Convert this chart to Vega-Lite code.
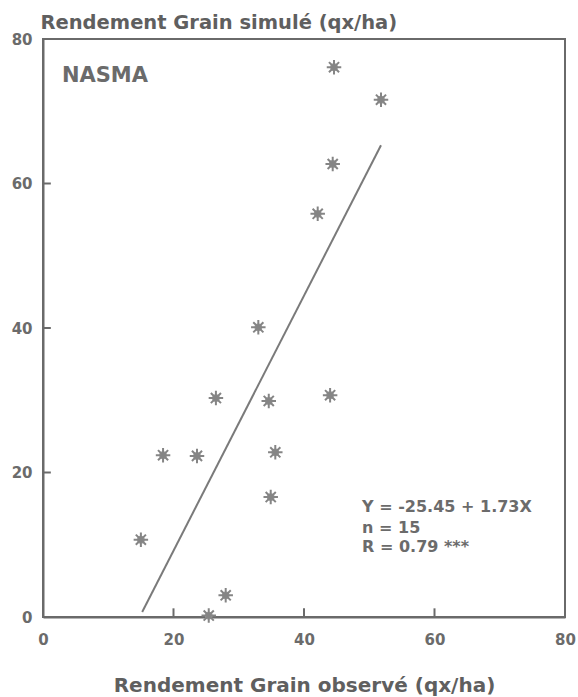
{
  "$schema": "https://vega.github.io/schema/vega-lite/v6.json",
  "width": 522,
  "height": 578,
  "autosize": {"type": "none"},
  "padding": {"left": 43, "top": 39, "right": 13, "bottom": 80},
  "background": "white",
  "config": {
    "view": {"stroke": "#6a6a6a", "strokeWidth": 2},
    "font": "DejaVu Sans",
    "axis": {
      "grid": false,
      "ticks": false,
      "labelFlush": false,
      "domainColor": "#6a6a6a",
      "domainWidth": 2,
      "labelFont": "DejaVu Sans",
      "labelFontWeight": "bold",
      "labelFontSize": 15,
      "labelColor": "#6b6b6b",
      "titleFont": "DejaVu Sans",
      "titleFontWeight": "bold",
      "titleFontSize": 20,
      "titleColor": "#5f5f5f"
    }
  },
  "datasets": {
    "pts": [
      {"obs": 44.6, "sim": 76.1},
      {"obs": 51.8, "sim": 71.6},
      {"obs": 44.4, "sim": 62.7},
      {"obs": 42.1, "sim": 55.8},
      {"obs": 33.0, "sim": 40.1},
      {"obs": 26.5, "sim": 30.3},
      {"obs": 34.6, "sim": 29.9},
      {"obs": 44.0, "sim": 30.7},
      {"obs": 18.4, "sim": 22.4},
      {"obs": 23.6, "sim": 22.3},
      {"obs": 35.6, "sim": 22.8},
      {"obs": 34.9, "sim": 16.6},
      {"obs": 15.0, "sim": 10.7},
      {"obs": 28.0, "sim": 3.0},
      {"obs": 25.4, "sim": 0.2}
    ],
    "fit": [
      {"obs": 15.2, "sim": 0.7},
      {"obs": 51.8, "sim": 65.3}
    ],
    "xticks": [{"tx": 20, "ty": 0, "ty2": 1.2}, {"tx": 40, "ty": 0, "ty2": 1.2}, {"tx": 60, "ty": 0, "ty2": 1.2}],
    "yticks": [{"tx": 0, "tx2": 1.2, "ty": 20}, {"tx": 0, "tx2": 1.2, "ty": 40}, {"tx": 0, "tx2": 1.2, "ty": 60}],
    "notes": [
      {"obs": 48.9, "sim": 14.5, "label": "Y = -25.45 + 1.73X"},
      {"obs": 48.9, "sim": 11.6, "label": "n = 15"},
      {"obs": 48.9, "sim": 9.0, "label": "R = 0.79 ***"}
    ],
    "head": [
      {"obs": 2.9, "sim": 74.0, "label": "NASMA"}
    ]
  },
  "encoding": {
    "x": {
      "field": "obs", "type": "quantitative",
      "scale": {"domain": [0, 80], "nice": false, "zero": false},
      "axis": {
        "values": [0, 20, 40, 60, 80],
        "title": "Rendement Grain observé (qx/ha)",
        "labelPadding": 15,
        "titleY": 74,
        "titleBaseline": "alphabetic"
      }
    },
    "y": {
      "field": "sim", "type": "quantitative",
      "scale": {"domain": [0, 80], "nice": false, "zero": false},
      "axis": {
        "values": [0, 20, 40, 60, 80],
        "title": "Rendement Grain simulé (qx/ha)",
        "labelPadding": 11,
        "titleAngle": 0,
        "titleAlign": "left",
        "titleBaseline": "alphabetic",
        "titleFontSize": 19.5,
        "titleX": -3,
        "titleY": -11
      }
    }
  },
  "layer": [
    {
      "data": {"name": "xticks"},
      "mark": {"type": "rule", "color": "#6a6a6a", "strokeWidth": 2},
      "encoding": {
        "x": {"field": "tx", "type": "quantitative"},
        "y": {"field": "ty", "type": "quantitative"},
        "y2": {"field": "ty2"}
      }
    },
    {
      "data": {"name": "yticks"},
      "mark": {"type": "rule", "color": "#6a6a6a", "strokeWidth": 2},
      "encoding": {
        "x": {"field": "tx", "type": "quantitative"},
        "x2": {"field": "tx2"},
        "y": {"field": "ty", "type": "quantitative"}
      }
    },
    {
      "data": {"name": "fit"},
      "mark": {"type": "line", "color": "#7a7a7a", "strokeWidth": 2}
    },
    {
      "data": {"name": "pts"},
      "mark": {"type": "point", "shape": "circle", "filled": true, "size": 60, "color": "#9a9a9a", "opacity": 1}
    },
    {
      "data": {"name": "pts"},
      "mark": {"type": "point", "shape": "M-1,0L1,0M0,-1L0,1M-0.7,-0.7L0.7,0.7M-0.7,0.7L0.7,-0.7", "filled": false, "size": 210, "color": "#858585", "strokeWidth": 2, "opacity": 1}
    },
    {
      "data": {"name": "notes"},
      "mark": {"type": "text", "align": "left", "baseline": "alphabetic", "font": "DejaVu Sans", "fontWeight": "bold", "fontSize": 16, "color": "#6b6b6b"},
      "encoding": {"text": {"field": "label"}}
    },
    {
      "data": {"name": "head"},
      "mark": {"type": "text", "align": "left", "baseline": "alphabetic", "font": "DejaVu Sans", "fontWeight": "bold", "fontSize": 21, "color": "#6b6b6b"},
      "encoding": {"text": {"field": "label"}}
    }
  ]
}
